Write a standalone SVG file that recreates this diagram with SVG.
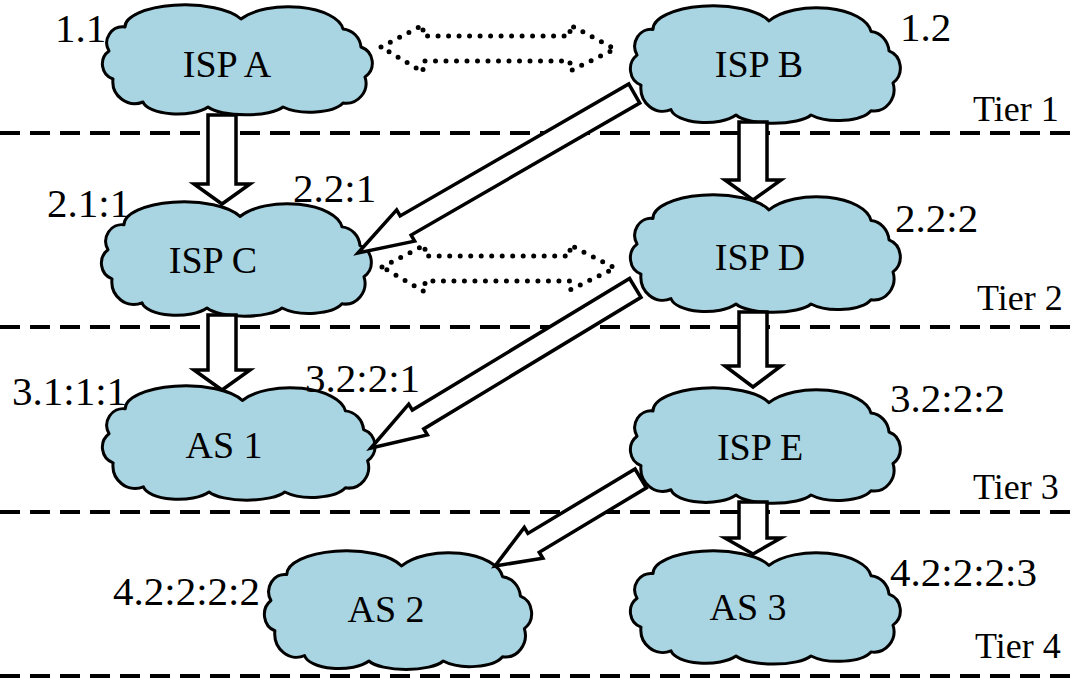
<svg xmlns="http://www.w3.org/2000/svg" xmlns:xlink="http://www.w3.org/1999/xlink" width="1072" height="679" viewBox="0 0 1072 679">
<style>
.tier-line{stroke:#000;stroke-width:4;stroke-dasharray:20 10;fill:none}
.cloud{fill:#a8d5e1;stroke:#000;stroke-width:3;stroke-linejoin:round}
.blk{fill:#fff;stroke:#000;stroke-width:3.5;stroke-linejoin:miter}
.dot{fill:none;stroke:#000;stroke-width:5;stroke-dasharray:0 10.5;stroke-linecap:round;stroke-linejoin:round}
.num{font-family:"Liberation Serif","Times New Roman",serif;font-size:41px;fill:#000}
.tier{font-family:"Liberation Serif","Times New Roman",serif;font-size:36px;fill:#000}
.lbl{font-family:"Liberation Serif","Times New Roman",serif;font-size:38px;fill:#000;text-anchor:middle}
</style>
<defs>
<path id="cloudShape" class="cloud" vector-effect="non-scaling-stroke" d="M 6,44 A 16 16 0 0 1 22,20 A 60 22 0 0 1 138,12 A 55 25 0 0 1 240,22 A 20 20 0 0 1 258,40 A 17 17 0 0 1 262,70 A 20 20 0 0 1 240,96 A 35 14 0 0 1 180,100 A 40 12 0 0 1 105,100 A 35 14 0 0 1 40,95 A 22 22 0 0 1 10,72 A 16 16 0 0 1 6,44 Z"/>
</defs>
<rect width="1072" height="679" fill="#fff"/>
<g id="tier-lines">
<line class="tier-line" x1="0" y1="133" x2="1072" y2="133"/>
<line class="tier-line" x1="0" y1="327" x2="1072" y2="327"/>
<line class="tier-line" x1="0" y1="512" x2="1072" y2="512"/>
<line class="tier-line" x1="0" y1="676" x2="1072" y2="676"/>
</g>
<g id="isp-a"><use xlink:href="#cloudShape" transform="translate(103,7)"/><text class="lbl" x="227" y="77">ISP A</text></g>
<g id="isp-b"><use xlink:href="#cloudShape" transform="translate(631,8) scale(1,1.07)"/><text class="lbl" x="759" y="77">ISP B</text></g>
<g id="isp-c"><use xlink:href="#cloudShape" transform="translate(102,204) scale(1,1.04)"/><text class="lbl" x="213" y="273">ISP C</text></g>
<g id="isp-d"><use xlink:href="#cloudShape" transform="translate(631,197) scale(1,1.07)"/><text class="lbl" x="760" y="270">ISP D</text></g>
<g id="as-1"><use xlink:href="#cloudShape" transform="translate(103,388) scale(1.01,1.04)"/><text class="lbl" x="224" y="458">AS 1</text></g>
<g id="isp-e"><use xlink:href="#cloudShape" transform="translate(631,390) scale(1,1.05)"/><text class="lbl" x="760" y="460">ISP E</text></g>
<g id="as-2"><use xlink:href="#cloudShape" transform="translate(265,553) scale(0.99,1.08)"/><text class="lbl" x="386" y="622">AS 2</text></g>
<g id="as-3"><use xlink:href="#cloudShape" transform="translate(631,553) scale(1,1.03)"/><text class="lbl" x="748" y="620">AS 3</text></g>
<g id="connectors">
<polygon class="blk" points="208,115 236,115 236,184 250,184 222,204 194,184 208,184"/>
<polygon class="blk" points="208,315 236,315 236,370 250,370 222,390 194,370 208,370"/>
<polygon class="blk" points="739,122 767,122 767,180 781,180 753,200 725,180 739,180"/>
<polygon class="blk" points="739,312 767,312 767,366 781,366 753,387 725,366 739,366"/>
<polygon class="blk" points="739,502 767,502 767,538 781,538 753,554 725,538 739,538"/>
<polygon class="blk" transform="translate(358,253) rotate(-30)" points="0,0 55,-18 55,-11 319,-11 319,11 55,11 55,18"/>
<polygon class="blk" transform="translate(371,448) rotate(-31.2)" points="0,0 55,-18 55,-11 309,-11 309,11 55,11 55,18"/>
<polygon class="blk" transform="translate(495,566) rotate(-31)" points="0,0 45,-18 45,-11 170,-11 170,11 45,11 45,18"/>
<polygon class="dot" points="381,47 423,25 423,36 570,36 570,25 615,49 570,71 570,61 423,61 423,72"/>
<polygon class="dot" points="382,267 425,245 425,256 570,256 570,245 615,268 570,290 570,281 425,281 425,292"/>
</g>
<g id="labels">
<text class="num" x="55" y="42">1.1</text>
<text class="num" x="900" y="41">1.2</text>
<text class="num" x="47" y="217">2.1:1</text>
<text class="num" x="293" y="202">2.2:1</text>
<text class="num" x="895" y="232">2.2:2</text>
<text class="num" x="12" y="405">3.1:1:1</text>
<text class="num" x="305" y="392">3.2:2:1</text>
<text class="num" x="890" y="412">3.2:2:2</text>
<text class="num" x="113" y="605">4.2:2:2:2</text>
<text class="num" x="890" y="586">4.2:2:2:3</text>
<text class="tier" x="973" y="121">Tier 1</text>
<text class="tier" x="977" y="310">Tier 2</text>
<text class="tier" x="973" y="499">Tier 3</text>
<text class="tier" x="975" y="658">Tier 4</text>
</g>
</svg>
